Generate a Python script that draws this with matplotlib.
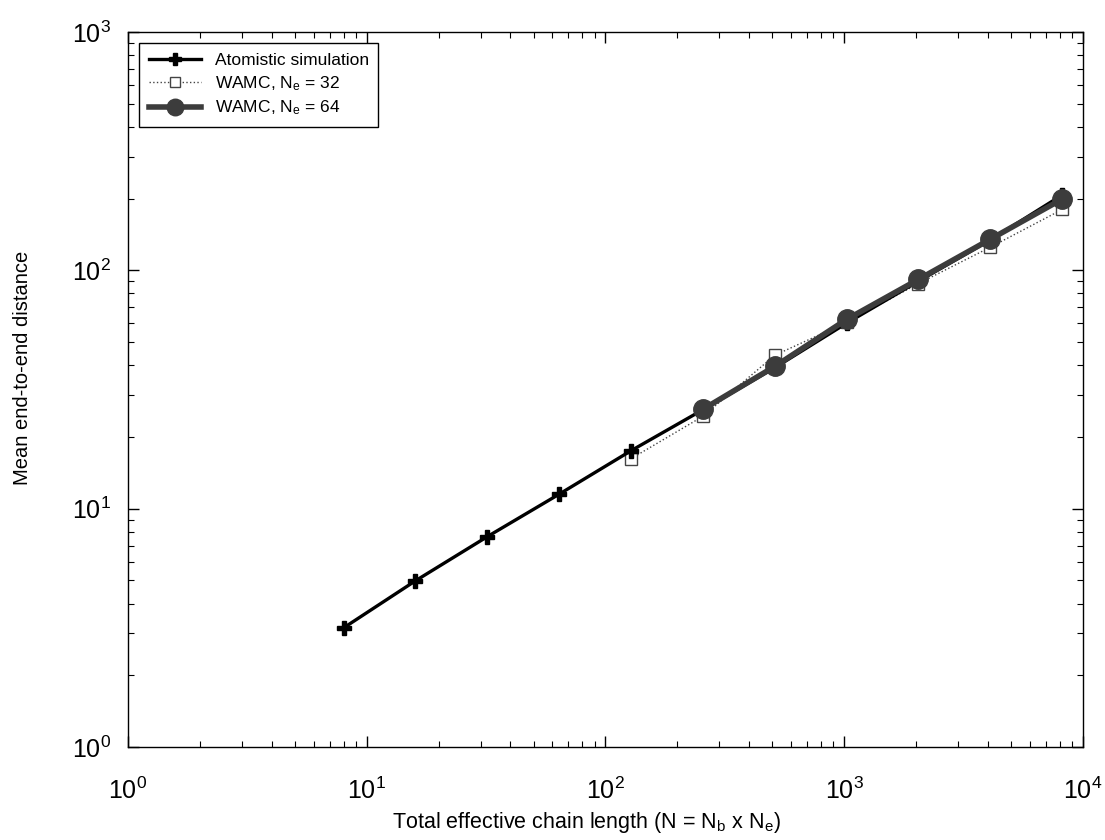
import matplotlib
matplotlib.use("Agg")
import matplotlib.pyplot as plt
from matplotlib import font_manager
from matplotlib.ticker import LogLocator, NullFormatter

plt.rcParams['font.family'] = ['Liberation Sans', 'DejaVu Sans']
plt.rcParams['mathtext.fontset'] = 'custom'
plt.rcParams['mathtext.rm'] = 'Liberation Sans'
plt.rcParams['mathtext.it'] = 'Liberation Sans'

# Atomistic reference chain lengths and mean end-to-end distances
n_atomistic = [8, 16, 32, 64, 128, 256, 512, 1024, 2048, 4096, 8192]
r_atomistic = [3.16, 4.98, 7.63, 11.5, 17.5, 26.0, 39.0, 60.0, 90.0, 134, 207]

# WAMC with 32 effective units per bead
n_wamc32 = [128, 256, 512, 1024, 2048, 4096, 8192]
r_wamc32 = [16.2, 24.4, 44.0, 60.5, 88.0, 125, 180]

# WAMC with 64 effective units per bead
n_wamc64 = [256, 512, 1024, 2048, 4096, 8192]
r_wamc64 = [26.1, 39.5, 62.2, 91.6, 135, 199]

# Narrow face for labels when available, regular otherwise
installed = {f.name for f in font_manager.fontManager.ttflist}
if 'Liberation Sans Narrow' in installed:
    label_family = ['Liberation Sans Narrow', 'DejaVu Sans']
    xlabel_size, ylabel_size, legend_size = 18.5, 17, 14
else:
    label_family = ['Liberation Sans', 'DejaVu Sans']
    xlabel_size, ylabel_size, legend_size = 15.5, 14.5, 12.5

fig = plt.figure(figsize=(11.05, 8.4), dpi=100)
ax = fig.add_axes([0.1158, 0.1107, 0.8642, 0.8513])

ax.plot(n_atomistic, r_atomistic, color='black', lw=2.4, marker='P',
        markersize=10, markerfacecolor='black', markeredgecolor='black',
        label='Atomistic simulation', zorder=3)
ax.plot(n_wamc32, r_wamc32, color='#444444', lw=1.0, ls=':', marker='s',
        markersize=9, markerfacecolor='white', markeredgecolor='#444444',
        markeredgewidth=1.0, label=r'WAMC, N$_\mathrm{e}$ = 32', zorder=2)
ax.plot(n_wamc64, r_wamc64, color='#3c3c3c', lw=4, marker='o',
        markersize=14, markerfacecolor='#3c3c3c', markeredgecolor='#3c3c3c',
        label=r'WAMC, N$_\mathrm{e}$ = 64', zorder=4)

ax.set_xscale('log')
ax.set_yscale('log')
ax.set_xlim(1, 1e4)
ax.set_ylim(1, 1e3)

for axis in (ax.xaxis, ax.yaxis):
    axis.set_minor_locator(LogLocator(base=10, subs=range(2, 10), numticks=20))
    axis.set_minor_formatter(NullFormatter())

ax.tick_params(which='both', direction='in', top=True, right=True,
               labelsize=18)
ax.tick_params(which='major', length=8, width=1)
ax.tick_params(which='minor', length=4, width=0.8)
ax.tick_params(axis='x', which='major', pad=22)
ax.tick_params(axis='y', which='major', pad=12)
for s in ax.spines.values():
    s.set_linewidth(1.0)

plt.rcParams['mathtext.rm'] = label_family[0]
ax.set_xlabel(r'Total effective chain length (N = N$_\mathrm{b}$ x N$_\mathrm{e}$)',
              fontsize=xlabel_size, family=label_family)
ax.set_ylabel('Mean end-to-end distance', fontsize=ylabel_size,
              family=label_family)
ax.xaxis.set_label_coords(0.48, -0.088)
ax.yaxis.set_label_coords(-0.1, 0.53)

leg = ax.legend(loc='upper left', prop={'family': label_family, 'size': legend_size},
                frameon=True, fancybox=False,
                edgecolor='black', framealpha=1, labelspacing=0.35,
                handlelength=3.0, borderpad=0.55, handletextpad=0.8,
                borderaxespad=0.65, markerscale=0.85)
leg.get_frame().set_linewidth(1.0)

fig.savefig('out.png', dpi=100)
